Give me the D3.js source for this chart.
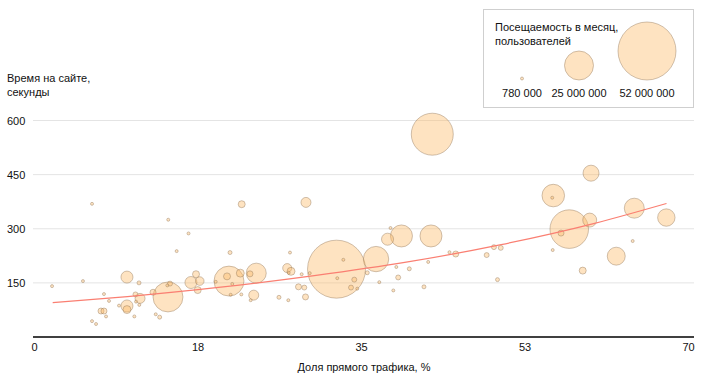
<!DOCTYPE html>
<html><head><meta charset="utf-8">
<script src="https://cdn.jsdelivr.net/npm/d3@7"></script>
<style>
html,body{margin:0;padding:0;background:#fff;}
text{font-family:"Liberation Sans",Arial,sans-serif;font-size:11px;fill:#111;}
</style></head>
<body>
<svg id="c" width="720" height="380"></svg>
<script>
// Direct traffic share, %
const directShare = [1.93,5.24,6.21,9.95,11.24,7.49,8.03,7.17,7.49,6.21,6.64,7.71,9.10,9.95,9.95,10.74,10.86,11.35,10.92,11.27,12.74,13.03,13.45,14.34,14.37,16.54,15.27,14.56,14.27,16.80,17.34,17.74,17.52,20.87,20.66,19.45,21.22,21.05,22.08,20.98,22.19,23.79,23.12,23.52,23.19,22.23,29.11,27.40,27.10,27.51,27.26,26.22,27.22,28.31,28.93,29.06,28.65,29.51,32.38,33.11,32.46,34.28,33.93,34.60,36.61,35.67,36.96,38.78,40.17,38.98,38.46,41.74,42.19,38.16,37.84,39.33,42.49,42.63,44.47,45.14,48.45,49.23,49.96,49.61,55.52,55.58,55.47,57.29,56.41,59.48,59.62,58.73,62.32,64.25,64.08,67.68];
// Time on site, seconds
const timeOnSite = [141,155,369,166,150,119,100,72,72,44,36,57,87,86,76,57,118,107,98,89,124,63,55,111,325,287,238,148,143,151,174,155,130,155,168,153,147,117,177,234,118,177,175,116,102,368,373,234,191,182,178,110,102,139,137,111,174,177,188,214,163,159,137,134,216,178,152,194,189,165,129,139,208,302,271,280,280,562,235,230,227,249,247,159,241,392,386,299,288,324,454,184,224,357,266,331];
// Monthly visitors, millions
const visitorsM = [0.78,0.78,0.78,9.2,1.7,0.78,0.78,3.6,3.6,0.78,0.78,0.78,0.78,9.2,5.4,0.78,2.6,7.3,0.78,0.78,3.6,0.78,1.7,25.9,0.78,0.78,0.78,2.6,0.78,9.2,4.5,6.0,4.5,25.9,4.5,0.78,0.78,0.78,5.4,1.7,0.78,16.6,3.6,7.3,0.78,4.5,7.3,0.78,6.4,5.4,0.78,1.7,0.78,3.6,2.6,3.6,0.78,0.78,52.0,0.78,0.78,2.6,2.6,0.78,21.6,1.7,0.78,0.78,1.7,2.6,0.78,1.7,0.78,0.78,9.2,18.5,18.5,37.1,0.78,3.6,2.6,2.6,2.6,1.7,0.78,19.0,0.78,33.9,3.6,11.0,12.9,4.5,14.7,16.6,0.78,14.2];
// Trend line
const trendX = [2,10,20,30,40,50,60,67.7];
const trendY = [95,112,138,170,208,256,315,370];
// Axes
const xTicks = [0,17.5,35,52.5,70];
const xTickLabels = ["0","18","35","53","70"];
const yTicks = [150,300,450,600];
const yTickLabels = ["150","300","450","600"];
// Legend
const legendValues = [780000,25000000,52000000];
const legendLabels = ["780 000","25 000 000","52 000 000"];
const texts = {
  yTitle: ["Время на сайте,","секунды"],
  xTitle: "Доля прямого трафика, %",
  legendTitle: ["Посещаемость в месяц,","пользователей"]
};

const svg = d3.select("#c");
const x = d3.scaleLinear().domain([0,70]).range([34,688]);
const y = d3.scaleLinear().domain([0,600]).range([337,120.5]);
const r = d3.scaleLinear().domain([780000,52000000]).range([1.5,29]);
const gridL = 33, gridR = 694;

// gridlines
svg.append("g").selectAll("line").data(yTicks).join("line")
  .attr("x1",gridL).attr("x2",gridR)
  .attr("y1",d=>y(d)).attr("y2",d=>y(d))
  .attr("stroke","#e4e4e4").attr("stroke-width",1);

// y tick labels
const yAxis = d3.axisLeft(y).tickValues(yTicks).tickSize(0).tickPadding(0)
  .tickFormat((d,i)=>yTickLabels[i]);
const gy = svg.append("g").attr("transform","translate(7,0)").call(yAxis);
gy.select(".domain").remove();
gy.selectAll("text").attr("text-anchor","start").attr("dy","0.35em")
  .style("font-family","Liberation Sans, Arial, sans-serif").style("font-size","11px").attr("fill","#111");

// y title
svg.append("text").attr("x",7).attr("y",82).text(texts.yTitle[0]);
svg.append("text").attr("x",7).attr("y",96).text(texts.yTitle[1]);

// bubbles
const pts = directShare.map((d,i)=>({x:d,y:timeOnSite[i],v:visitorsM[i]*1e6}))
  .sort((a,b)=>b.v-a.v);
svg.append("g").selectAll("circle").data(pts).join("circle")
  .attr("cx",d=>x(d.x)).attr("cy",d=>y(d.y)).attr("r",d=>r(d.v))
  .attr("fill","rgba(253,184,99,0.4)")
  .attr("stroke","rgba(150,125,95,0.45)").attr("stroke-width",1);

// trend
const trend = trendX.map((d,i)=>[d,trendY[i]]);
svg.append("path").datum(trend)
  .attr("d",d3.line().x(d=>x(d[0])).y(d=>y(d[1])).curve(d3.curveMonotoneX))
  .attr("fill","none").attr("stroke","#fa7f72").attr("stroke-width",1.2);

// x axis
svg.append("line").attr("x1",gridL).attr("x2",gridR).attr("y1",y(0)).attr("y2",y(0))
  .attr("stroke","#000").attr("stroke-width",1.5);
const xAxis = d3.axisBottom(x).tickValues(xTicks).tickSize(0).tickPadding(0)
  .tickFormat((d,i)=>xTickLabels[i]);
const gx = svg.append("g").attr("transform","translate(0,343)").call(xAxis);
gx.select(".domain").remove();
gx.selectAll("text").attr("dy","0.71em")
  .style("font-family","Liberation Sans, Arial, sans-serif").style("font-size","11px").attr("fill","#111");
svg.append("text").attr("x",364).attr("y",371).attr("text-anchor","middle").text(texts.xTitle);

// legend
const lg = svg.append("g");
lg.append("rect").attr("x",483.5).attr("y",9.5).attr("width",210).attr("height",98)
  .attr("fill","#fff").attr("stroke","#cfcfcf");
lg.append("text").attr("x",495).attr("y",31).text(texts.legendTitle[0]);
lg.append("text").attr("x",495).attr("y",45).text(texts.legendTitle[1]);
const lgX = [522,579,647];
const lgBottom = 80;
lg.selectAll("circle").data(legendValues).join("circle")
  .attr("cx",(d,i)=>lgX[i]).attr("cy",d=>lgBottom-r(d)).attr("r",d=>r(d))
  .attr("fill","rgba(253,184,99,0.4)")
  .attr("stroke","rgba(150,125,95,0.45)");
lg.selectAll("text.lv").data(legendLabels).join("text").attr("class","lv")
  .attr("x",(d,i)=>lgX[i]).attr("y",97).attr("text-anchor","middle").text(d=>d);
</script>
</body></html>
